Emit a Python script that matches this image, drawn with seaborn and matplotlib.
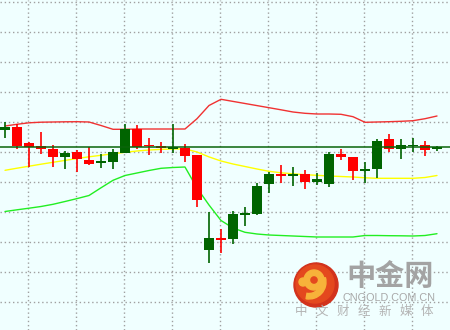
import numpy as np
import pandas as pd
import matplotlib
matplotlib.use("Agg")
import matplotlib.pyplot as plt
import seaborn as sns
from matplotlib.patches import Circle, Wedge

# ---- data (price units) ----
opens = [202.3, 205.3, 189.3, 186.0, 183.0, 175.3, 180.0, 172.3, 169.3, 170.3,
         179.3, 203.3, 187.0, 186.0, 183.0, 184.3, 177.0, 82.3, 93.7, 93.3,
         117.3, 118.3, 148.3, 157.7, 156.3, 158.0, 150.0, 148.3, 178.0, 175.0,
         161.0, 163.0, 193.0, 183.0, 186.0, 187.0, 183.0]
highs = [210.0, 208.0, 190.0, 200.3, 187.0, 181.3, 182.0, 184.7, 178.0, 182.7,
         208.3, 207.3, 194.3, 189.7, 207.7, 188.0, 177.0, 119.7, 102.7, 121.3,
         125.3, 149.3, 160.3, 167.0, 165.3, 162.0, 159.0, 180.0, 183.0, 175.0,
         170.3, 193.0, 198.3, 193.0, 194.3, 191.0, 186.3]
lows = [193.7, 182.7, 165.3, 177.7, 165.3, 163.3, 160.0, 167.3, 164.3, 163.3,
        178.7, 182.7, 177.0, 179.0, 178.7, 169.7, 125.3, 68.7, 79.3, 87.7,
        106.3, 117.3, 138.7, 149.0, 146.3, 142.7, 147.0, 145.0, 172.0, 152.0,
        149.3, 154.0, 180.0, 173.0, 180.3, 176.3, 181.3]
closes = [205.0, 186.0, 185.0, 183.3, 175.3, 179.3, 173.3, 168.3, 171.3, 180.0,
          203.0, 185.0, 186.0, 183.7, 184.7, 176.3, 131.7, 94.0, 92.3, 118.0,
          119.0, 146.3, 158.3, 156.3, 157.7, 150.3, 153.0, 178.3, 175.0, 161.0,
          163.0, 191.0, 183.3, 187.0, 187.0, 182.3, 184.7]

upper = [206.0, 207.7, 209.2, 209.8, 210.0, 210.2, 210.3, 210.0, 206.5, 202.7,
         202.7, 203.0, 203.0, 203.0, 203.0, 203.0, 213.3, 226.5, 232.7, 230.6,
         228.5, 226.4, 224.3, 222.2, 220.0, 218.7, 218.0, 218.0, 217.7, 215.3,
         209.7, 210.0, 210.3, 210.7, 211.3, 213.3, 216.0]
middle = [161.7, 163.8, 165.8, 167.8, 169.7, 171.6, 173.5, 175.2, 176.7, 178.2,
          179.7, 181.0, 182.0, 182.6, 183.0, 183.1, 180.0, 175.1, 171.0, 168.0,
          165.5, 163.0, 160.7, 159.2, 158.2, 157.3, 156.7, 156.0, 155.5, 155.0,
          154.2, 153.7, 153.7, 153.7, 153.7, 154.5, 156.5]
lower = [120.5, 122.2, 123.8, 125.5, 127.7, 130.5, 133.4, 136.5, 144.2, 151.7,
         156.5, 159.0, 161.5, 163.7, 164.5, 165.0, 144.0, 127.0, 111.5, 104.0,
         99.7, 98.0, 97.0, 96.5, 96.0, 95.5, 95.0, 95.0, 95.0, 95.0,
         96.5, 96.5, 96.3, 96.2, 96.0, 96.5, 98.3]

brand = "中金网"
domain = "CNGOLD.COM.CN"
slogan = "中文财经新媒体"

# ---- style ----
sns.set_theme(style="white")
plt.rcParams['font.family'] = ['Noto Sans CJK SC', 'DejaVu Sans']

BG = '#F0FFFF'
UP_C = '#006400'
DN_C = '#FF0000'

fig = plt.figure(figsize=(4.5, 3.3), dpi=100)
fig.patch.set_facecolor(BG)
ax = fig.add_axes([0, 0, 1, 1])
ax.set_facecolor(BG)

n = len(opens)
idx = np.arange(n)
df = pd.DataFrame({'bar': idx, 'upper': upper, 'middle': middle, 'lower': lower})

sns.lineplot(data=df, x='bar', y='upper', color='#F03232', lw=1.0, ax=ax, zorder=2)
sns.lineplot(data=df, x='bar', y='middle', color='#FFFF00', lw=1.0, ax=ax, zorder=2)
sns.lineplot(data=df, x='bar', y='lower', color='#22EE22', lw=1.0, ax=ax, zorder=2)

o = np.array(opens)
c = np.array(closes)
colors = np.where(c >= o, UP_C, DN_C)
ax.vlines(idx, lows, highs, colors=colors, lw=1.2, zorder=3)
ax.bar(idx, np.abs(c - o), bottom=np.minimum(o, c), width=10 / 12,
       color=colors, lw=0, zorder=4)
ax.axhline(closes[-1], color='#0A640A', lw=1.1, zorder=5)

ax.set_xlim(-5 / 12, 445 / 12)
ax.set_ylim(2, 332)
ax.set_xticks(np.arange(23 / 12, n, 4))
ax.set_yticks(np.arange(30, 331, 30))
ax.grid(True, color='#A0A0A0', linestyle=(0, (1, 2)), lw=1.0, zorder=0)
ax.set_axisbelow(True)
ax.tick_params(length=0, labelbottom=False, labelleft=False)
ax.set_xlabel('')
ax.set_ylabel('')
for s in ax.spines.values():
    s.set_visible(False)

# ---- watermark overlay (pixel coordinates) ----
wax = fig.add_axes([0, 0, 1, 1])
wax.set_xlim(0, 450)
wax.set_ylim(330, 0)
wax.axis('off')
wax.patch.set_alpha(0)

wax.add_patch(Circle((316, 285), 22, color='#D2321C', zorder=1))
wax.add_patch(Circle((315, 284), 19, color='#E4481E', zorder=2))
wax.add_patch(Wedge((314, 280), 10, 0, 360, width=5.5, color='#F7B23A', zorder=3))
wax.add_patch(Wedge((309, 282), 17, -15, 100, width=5.5, color='#F7B23A', zorder=3))
wax.add_patch(Circle((303, 282), 4, color='#F7B23A', zorder=3))

wax.text(390, 276, brand, fontsize=21, fontweight='bold', color='#A3A3A3',
         ha='center', va='center')
wax.text(389, 298, domain, fontsize=7.8, color='#A8A8A8', ha='center', va='center',
         family=['Liberation Sans', 'DejaVu Sans'])
for k, ch in enumerate(slogan):
    wax.text(301 + 21 * k, 311, ch, fontsize=9, color='#B4B4B4',
             ha='center', va='center')

fig.savefig('out.png', dpi=100, facecolor=BG)
